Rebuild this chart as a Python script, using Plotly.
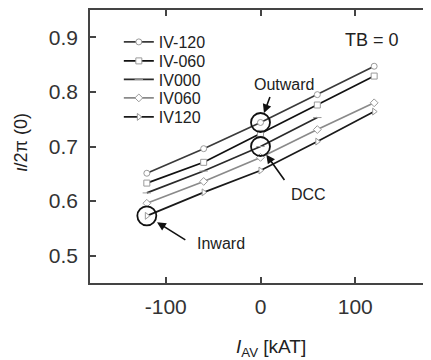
import plotly.graph_objects as go

# ---- data ----
i_av = [-120, -60, 0, 60, 120]
series_names = ["IV-120", "IV-060", "IV000", "IV060", "IV120"]
iv_m120 = [0.651, 0.696, 0.744, 0.795, 0.847]
iv_m060 = [0.633, 0.671, 0.724, 0.776, 0.829]
iv_000 = [0.615, 0.655, 0.700, 0.753, None]
iv_060 = [0.596, 0.636, 0.680, 0.731, 0.780]
iv_120 = [0.573, 0.616, 0.656, 0.709, 0.764]
x_ticks = [-100, 0, 100]
y_ticks = [0.5, 0.6, 0.7, 0.8, 0.9]

series_vals = [iv_m120, iv_m060, iv_000, iv_060, iv_120]
line_colors = ["#3a3a3a", "#111111", "#2a2a2a", "#8a8a8a", "#1a1a1a"]
symbols = ["circle", "square", "line-ew", "diamond", "triangle-right"]

FONT = "Liberation Sans, Arial, sans-serif"

# the page body has an 8px margin; plot area on screen spans x 90..433, y 10..283
def px2paper(px, py):
    return (px - 90) / 343.0, (283 - py) / 273.0

legend_rows_px = [42, 61, 79.5, 98, 117]

fig = go.Figure()
legend_layouts = {}
for k, (name, vals, col, sym) in enumerate(zip(series_names, series_vals, line_colors, symbols)):
    lg = "legend" if k == 0 else f"legend{k + 1}"
    fig.add_trace(go.Scatter(
        x=i_av, y=vals, name=name, mode="lines+markers",
        line=dict(color=col, width=1.7),
        marker=dict(symbol=sym, size=6, color="white",
                    line=dict(color="#9a9a9a", width=1)),
        connectgaps=False, legend=lg,
    ))
    lx, _ = px2paper(119, 0)
    _, ly = px2paper(0, legend_rows_px[k])
    legend_layouts[lg] = dict(x=lx, y=ly, xanchor="left", yanchor="middle",
                              bgcolor="rgba(0,0,0,0)", borderwidth=0,
                              font=dict(family=FONT, size=16, color="#222222"))

# highlighted points (circles) taken from the data
circ_pts = [(i_av[2], iv_m120[2]), (i_av[2], iv_000[2]), (i_av[0], iv_120[0])]
for cx, cy in circ_pts:
    fig.add_shape(type="circle", xref="x", yref="y", xsizemode="pixel", ysizemode="pixel",
                  xanchor=cx, yanchor=cy, x0=-9.5, x1=9.5, y0=-9.5, y1=9.5,
                  line=dict(color="#111111", width=1.8))

# arrows
arrows = [((i_av[2], iv_m120[2]), 10, -27, 10),
          ((i_av[2], iv_000[2]), 25, 35, 10),
          ((i_av[0], iv_120[0]), 40, 25, 12)]
for (hx, hy), ax, ay, so in arrows:
    fig.add_annotation(x=hx, y=hy, xref="x", yref="y", text="", showarrow=True,
                       ax=ax, ay=ay, axref="pixel", ayref="pixel", standoff=so,
                       arrowhead=2, arrowsize=1.1, arrowwidth=1.6, arrowcolor="#111111")

for txt, (px, py), size in [("Outward", (285, 84), 16), ("DCC", (310, 194), 16),
                            ("Inward", (222, 243), 16), ("TB = 0", (374, 40), 18)]:
    xp, yp = px2paper(px, py)
    fig.add_annotation(x=xp, y=yp, xref="paper", yref="paper", text=txt, showarrow=False,
                       xanchor="center", yanchor="middle",
                       font=dict(family=FONT, size=size, color="#222222"))

# axis titles
xp, yp = px2paper(272, 348)
fig.add_annotation(x=xp, y=yp, xref="paper", yref="paper",
                   text="<i>I</i><sub>AV</sub> [kAT]", showarrow=False,
                   xanchor="center", yanchor="middle",
                   font=dict(family=FONT, size=19, color="#222222"))
xp, yp = px2paper(21, 142)
fig.add_annotation(x=xp, y=yp, xref="paper", yref="paper",
                   text="<i>ι</i>/2π (0)", showarrow=False, textangle=-90,
                   xanchor="center", yanchor="middle",
                   font=dict(family=FONT, size=18, color="#222222"))

axis_common = dict(showline=True, linecolor="#444444", linewidth=1.6, mirror="ticks",
                   ticks="inside", ticklen=6, tickwidth=1.5, tickcolor="#444444",
                   showgrid=False, zeroline=False,
                   tickfont=dict(family=FONT, size=21, color="#333333"))

fig.update_xaxes(range=[-180, 180], tickvals=x_ticks, ticktext=[str(v) for v in x_ticks],
                 ticklabelstandoff=4, **axis_common)
fig.update_yaxes(range=[0.45, 0.95], tickvals=y_ticks, ticktext=[f"{v:.1f}" for v in y_ticks],
                 ticklabelstandoff=6, **axis_common)

fig.update_layout(
    width=425, height=352,
    margin=dict(l=82, r=0, t=2, b=77),
    paper_bgcolor="white", plot_bgcolor="white",
    showlegend=True,
    font=dict(family=FONT),
    **legend_layouts,
)

fig.write_html("out.html")
